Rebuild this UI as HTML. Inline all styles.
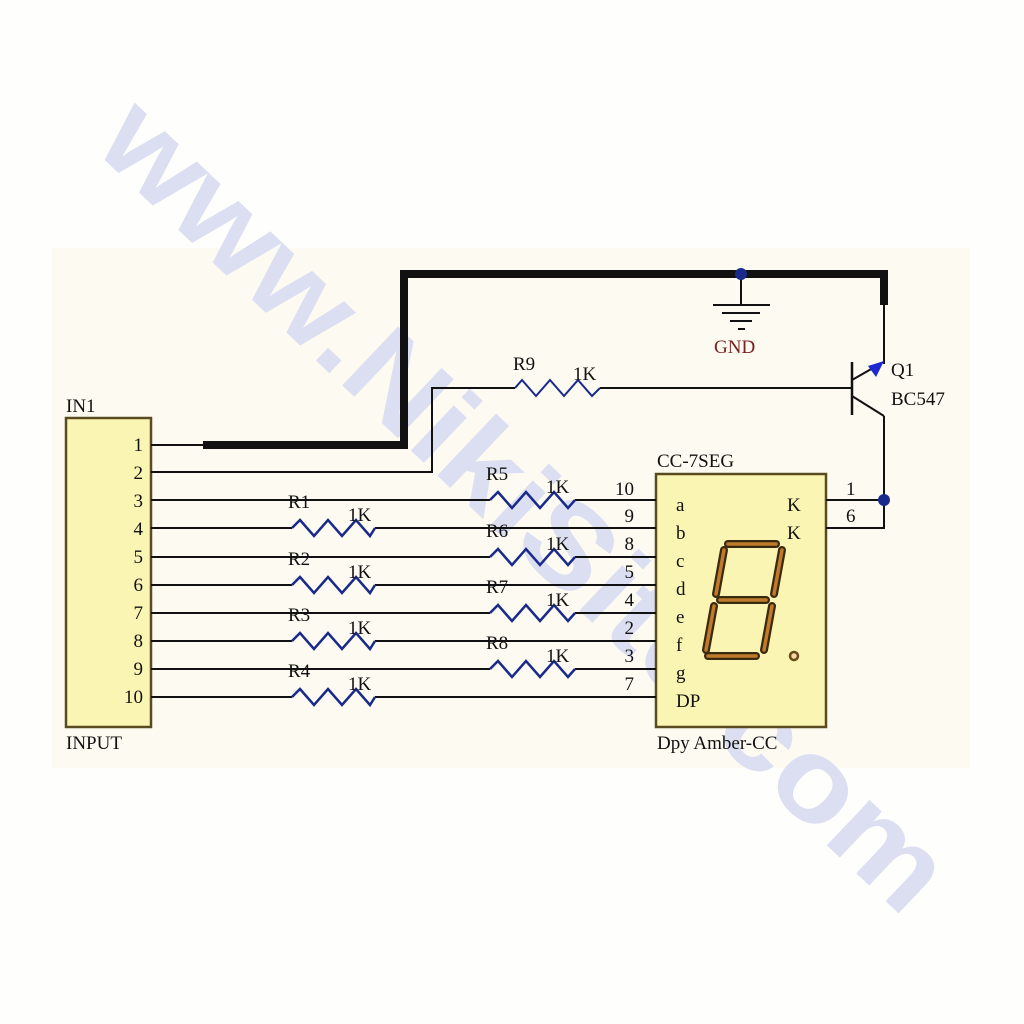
<!DOCTYPE html>
<html><head><meta charset="utf-8"><style>
html,body{margin:0;padding:0;background:#fefefe;}
svg{display:block;}
text{font-family:"Liberation Serif",serif;}
</style></head><body>
<svg width="1024" height="1024" viewBox="0 0 1024 1024">
<rect x="0" y="0" width="1024" height="1024" fill="#fefefd"/>
<rect x="52" y="248" width="918" height="520" fill="#fcfaf1"/>
<!-- watermark -->
<text x="0" y="0" transform="translate(92,148) rotate(43.5)" font-weight="bold" font-size="118" fill="#dcdff2" textLength="1120" lengthAdjust="spacingAndGlyphs" style="font-family:'Liberation Sans',sans-serif">www.NikiSite.com</text>

<g stroke="#111" fill="none" stroke-width="2">
<rect x="66" y="418" width="85" height="309" fill="#fbf5b3" stroke="#5a4a20" stroke-width="2.5"/>
<rect x="656" y="474" width="170" height="253" fill="#fbf5b3" stroke="#5a4a20" stroke-width="2.5"/>
<polyline points="203,445 404,445 404,274 884,274 884,305" stroke-width="8" stroke-linejoin="miter"/>
<line x1="151" y1="445" x2="203" y2="445"/>
<polyline points="151,472 432,472 432,388 515,388"/>
<polyline points="515,388 522,380 536,396 550,380 564,396 578,380 592,396 600,388" stroke="#1a2a8a"/>
<line x1="600" y1="388" x2="852" y2="388"/>
<line x1="852" y1="362" x2="852" y2="415" stroke-width="2.5"/>
<line x1="852" y1="380" x2="880" y2="364"/>
<line x1="852" y1="396" x2="884" y2="416"/>
<line x1="884" y1="305" x2="884" y2="364"/>
<polyline points="884,416 884,528 826,528"/>
<line x1="826" y1="500" x2="884" y2="500"/>
<line x1="741" y1="274" x2="741" y2="305"/>
<line x1="713" y1="305" x2="770" y2="305"/>
<line x1="722" y1="313" x2="760" y2="313"/>
<line x1="730" y1="321" x2="752" y2="321"/>
<line x1="738" y1="329" x2="745" y2="329"/>
</g>
<polygon points="884,361 868,366 876,377" fill="#1a2ad0"/>
<circle cx="741" cy="274" r="6" fill="#1a2a8a"/>
<circle cx="884" cy="500" r="6" fill="#1a2a8a"/>

<g stroke="#111" stroke-width="2" fill="none">
<polyline points="151,500 490,500"/><polyline points="575,500 656,500"/>
<polyline points="151,557 490,557"/><polyline points="575,557 656,557"/>
<polyline points="151,613 490,613"/><polyline points="575,613 656,613"/>
<polyline points="151,669 490,669"/><polyline points="575,669 656,669"/>
<polyline points="151,528 292,528"/><polyline points="375,528 656,528"/>
<polyline points="151,585 292,585"/><polyline points="375,585 656,585"/>
<polyline points="151,641 292,641"/><polyline points="375,641 656,641"/>
<polyline points="151,697 292,697"/><polyline points="375,697 656,697"/>
</g>
<g stroke="#1a2a8a" stroke-width="2.5" fill="none">
<polyline points="292,528 300,520 314,536 328,520 342,536 356,520 370,536 375,528"/>
<polyline points="292,585 300,577 314,593 328,577 342,593 356,577 370,593 375,585"/>
<polyline points="292,641 300,633 314,649 328,633 342,649 356,633 370,649 375,641"/>
<polyline points="292,697 300,689 314,705 328,689 342,705 356,689 370,705 375,697"/>
<polyline points="490,500 498,492 512,508 526,492 540,508 554,492 568,508 575,500"/>
<polyline points="490,557 498,549 512,565 526,549 540,565 554,549 568,565 575,557"/>
<polyline points="490,613 498,605 512,621 526,605 540,621 554,605 568,621 575,613"/>
<polyline points="490,669 498,661 512,677 526,661 540,677 554,661 568,677 575,669"/>
</g>

<g fill="none" stroke-linecap="round">
<g stroke="#3a2a12" stroke-width="8">
<line x1="728" y1="544" x2="776" y2="544"/>
<line x1="782" y1="550" x2="774" y2="594"/>
<line x1="772" y1="606" x2="764" y2="650"/>
<line x1="756" y1="656" x2="708" y2="656"/>
<line x1="706" y1="650" x2="714" y2="606"/>
<line x1="716" y1="594" x2="724" y2="550"/>
<line x1="720" y1="600" x2="766" y2="600"/>
</g>
<g stroke="#c07a2a" stroke-width="3.5">
<line x1="728" y1="544" x2="776" y2="544"/>
<line x1="782" y1="550" x2="774" y2="594"/>
<line x1="772" y1="606" x2="764" y2="650"/>
<line x1="756" y1="656" x2="708" y2="656"/>
<line x1="706" y1="650" x2="714" y2="606"/>
<line x1="716" y1="594" x2="724" y2="550"/>
<line x1="720" y1="600" x2="766" y2="600"/>
</g>
</g>
<circle cx="794" cy="656" r="4" fill="#f3d8a0" stroke="#6a4a1a" stroke-width="2.5"/>

<g font-size="19" fill="#111">
<text x="66" y="412">IN1</text>
<text x="66" y="749">INPUT</text>
<g text-anchor="end">
<text x="143" y="451">1</text><text x="143" y="479">2</text><text x="143" y="507">3</text>
<text x="143" y="535">4</text><text x="143" y="563">5</text><text x="143" y="591">6</text>
<text x="143" y="619">7</text><text x="143" y="647">8</text><text x="143" y="675">9</text>
<text x="143" y="703">10</text>
<text x="634" y="495">10</text><text x="634" y="522">9</text><text x="634" y="550">8</text>
<text x="634" y="578">5</text><text x="634" y="606">4</text><text x="634" y="634">2</text>
<text x="634" y="662">3</text><text x="634" y="690">7</text>
</g>
<text x="676" y="511">a</text><text x="676" y="539">b</text><text x="676" y="567">c</text>
<text x="676" y="595">d</text><text x="676" y="623">e</text><text x="676" y="651">f</text>
<text x="676" y="679">g</text><text x="676" y="707">DP</text>
<text x="787" y="511">K</text><text x="787" y="539">K</text>
<text x="846" y="495">1</text><text x="846" y="522">6</text>
<text x="657" y="467">CC-7SEG</text>
<text x="657" y="749">Dpy Amber-CC</text>
<text x="891" y="376">Q1</text>
<text x="891" y="405">BC547</text>
<text x="714" y="353" fill="#7a2020">GND</text>
<text x="513" y="370">R9</text><text x="573" y="380">1K</text>
<text x="288" y="508">R1</text><text x="348" y="521">1K</text>
<text x="288" y="565">R2</text><text x="348" y="578">1K</text>
<text x="288" y="621">R3</text><text x="348" y="634">1K</text>
<text x="288" y="677">R4</text><text x="348" y="690">1K</text>
<text x="486" y="480">R5</text><text x="546" y="493">1K</text>
<text x="486" y="537">R6</text><text x="546" y="550">1K</text>
<text x="486" y="593">R7</text><text x="546" y="606">1K</text>
<text x="486" y="649">R8</text><text x="546" y="662">1K</text>
</g>
</svg>
</body></html>
